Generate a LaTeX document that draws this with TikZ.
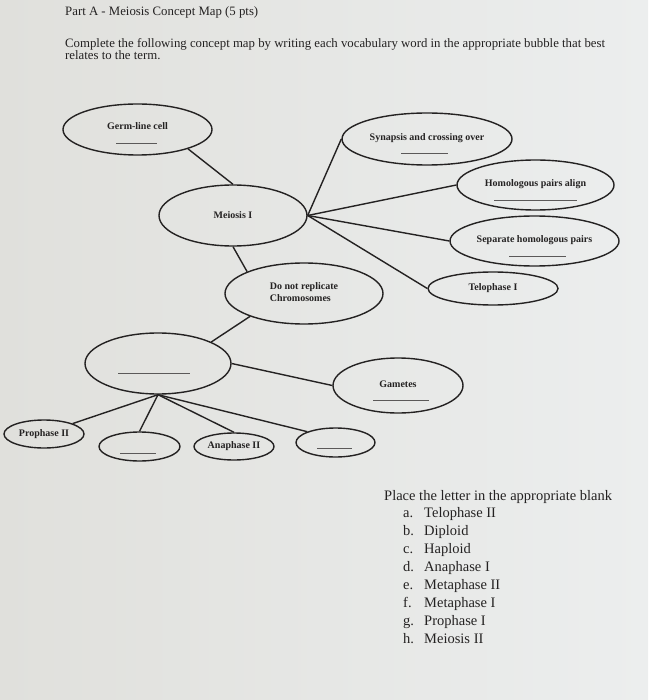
\documentclass[tikz,border=0pt]{standalone}
\usepackage{fontspec}
\setmainfont{Liberation Serif}
\usetikzlibrary{shapes.geometric,calc}
\definecolor{paperl}{RGB}{224,224,220}
\definecolor{paperr}{RGB}{236,238,238}
\definecolor{ink}{RGB}{36,34,34}

\begin{document}
\begin{tikzpicture}[
x=1pt, y=-1pt,
bub/.style={draw=ink, ellipse, line width=1.4pt, inner sep=0pt, text=ink, font=\bfseries\fontsize{10}{11}\selectfont},
conn/.style={draw=ink, line width=1.4pt},
blank/.style={draw=ink!75, line width=0.6pt},
txt/.style={text=ink, inner sep=0pt, anchor=base west}
]
\shade[left color=paperl, right color=paperr] (0,0) rectangle (648,700);
\useasboundingbox (0,0) rectangle (648,700);

% heading
\node[txt, font=\fontsize{12.8}{14}\selectfont] (title) at (65,16) {Part A - Meiosis Concept Map (5 pts)};
\node[txt, anchor=north west, align=left, font=\fontsize{12.8}{12}\selectfont] (task) at (65,38.5) {Complete the following concept map by writing each vocabulary word in the appropriate bubble that best\\relates to the term.};

% bubbles
\node[bub, minimum width=149pt, minimum height=51pt] (germ) at (137.5,129.5) {\raisebox{6.5pt}{Germ-line cell}};
\node[bub, minimum width=148pt, minimum height=61pt] (mei) at (233,215.5) {Meiosis I};
\node[bub, minimum width=170pt, minimum height=52pt] (syn) at (427,139) {\raisebox{4pt}{Synapsis and crossing over}};
\node[bub, minimum width=157pt, minimum height=50pt] (hom) at (535.5,185) {\raisebox{3pt}{Homologous pairs align}};
\node[bub, minimum width=169pt, minimum height=50pt] (sep) at (534.5,241) {\raisebox{4pt}{Separate homologous pairs}};
\node[bub, minimum width=130pt, minimum height=33pt] (telo) at (493,288.5) {Telophase I};
\node[bub, minimum width=158pt, minimum height=61pt, align=left] (dnr) at (304,293.5) {\raisebox{3pt}{\shortstack[l]{Do not replicate\\Chromosomes}}};
\node[bub, minimum width=146pt, minimum height=61pt] (mtwo) at (158,363.5) {};
\node[bub, minimum width=130pt, minimum height=55pt] (gam) at (398,385.5) {\raisebox{2.5pt}{Gametes}};
\node[bub, minimum width=80pt, minimum height=28pt] (pro) at (44,434) {Prophase II};
\node[bub, minimum width=81pt, minimum height=29pt] (bla) at (139.5,446.5) {};
\node[bub, minimum width=80pt, minimum height=27pt] (ana) at (234,446.5) {Anaphase II};
\node[bub, minimum width=79pt, minimum height=29pt] (blb) at (335.5,442.5) {};

% write-in lines
\foreach \n/\dx/\dy/\w in {germ/-1/13.5/41, syn/-2.5/14/47, hom/0/15/83, sep/3/15/57, gam/3/14.5/56, mtwo/-4/9.5/72, bla/-1.5/6.5/36, blb/-1/5.5/35}
  \draw[blank] ($(\n.center)+(\dx-\w/2,\dy)$) -- ++(\w,0);

% links
\draw[conn] (germ.-21) -- (mei.north);
\foreach \t in {syn,hom,sep,telo}
  \draw[conn] (mei.east) -- (\t.west);
\draw[conn] (mei.south) -- (dnr.159);
\draw[conn] (dnr.-157) -- (mtwo.22);
\draw[conn] (mtwo.east) -- (gam.west);
\draw[conn] (mtwo.south) -- (pro.20);
\draw[conn] (mtwo.south) -- (bla.north);
\draw[conn] (mtwo.south) -- (ana.north);
\draw[conn] (mtwo.south) -- (blb.159);

% word bank
\node[txt, font=\fontsize{14.5}{16}\selectfont] (bank) at (384,500) {Place the letter in the appropriate blank};
\foreach \l/\t [count=\i] in {a/Telophase II, b/Diploid, c/Haploid, d/Anaphase I, e/Metaphase II, f/Metaphase I, g/Prophase I, h/Meiosis II}
  \node[txt, font=\fontsize{14.5}{16}\selectfont] (opt\i) at (403,499+18*\i) {\makebox[21pt][l]{\l.}\t};
\end{tikzpicture}
\end{document}
